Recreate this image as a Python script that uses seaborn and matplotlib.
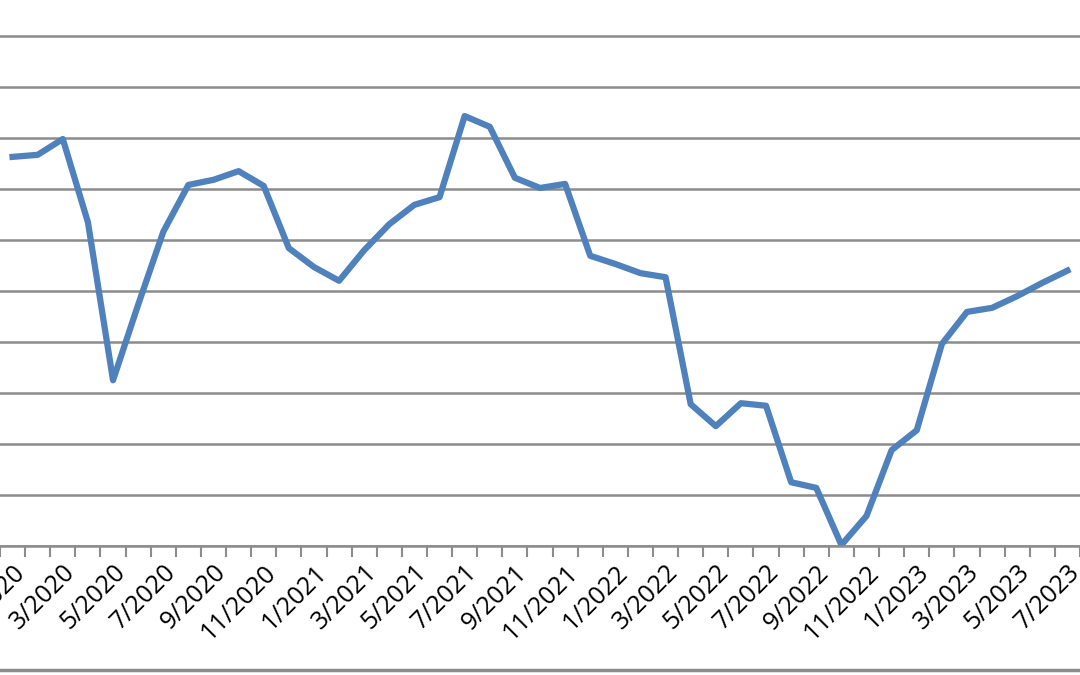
import matplotlib
matplotlib.use("Agg")
import matplotlib.pyplot as plt
import seaborn as sns
import numpy as np
import pandas as pd

months = [f"{m}/{y}" for y in range(2020, 2024) for m in range(1, 13)][:43]
# values (gridline units)
values = [7.63, 7.67, 7.98, 6.35, 3.25, 4.73, 6.16, 7.08, 7.18, 7.35, 7.06,
          5.84, 5.47, 5.20, 5.80, 6.31, 6.69, 6.84, 8.43, 8.22, 7.22, 7.02,
          7.10, 5.69, 5.53, 5.35, 5.27, 2.78, 2.35, 2.80, 2.75, 1.25, 1.14,
          0.02, 0.59, 1.88, 2.27, 3.96, 4.59, 4.67, 4.90, 5.16, 5.40]

df = pd.DataFrame({"idx": np.arange(len(values)), "value": values})

fig = plt.figure(figsize=(10.8, 6.75), dpi=100)
ax = fig.add_axes([0, 129 / 675, 1, 546 / 675])
sns.lineplot(data=df, x="idx", y="value", ax=ax, color="#4f81bd", linewidth=4.5)

ax.set_xlim(-0.39, 41.47)
ax.set_ylim(0, 546 / 51)
ax.set_yticks(range(0, 11))
ax.set_yticklabels([])
ax.tick_params(axis="y", length=0)
ax.grid(axis="y", color="#8c8c8c", linewidth=1.8)
ax.set_axisbelow(True)
for s in ["top", "right", "left"]:
    ax.spines[s].set_visible(False)
ax.spines["bottom"].set_color("#8c8c8c")
ax.spines["bottom"].set_linewidth(1.8)

ax.set_xticks(np.arange(0, 43, 2))
ax.set_xticklabels(months[::2], rotation=45, ha="right", rotation_mode="anchor",
                   fontsize=18, family="Open Sans")
ax.tick_params(axis="x", length=0, pad=10)
ax.set_xticks(np.arange(-0.5, 43, 1), minor=True)
ax.tick_params(axis="x", which="minor", length=8, color="#8c8c8c", width=1.5)
ax.set_xlabel("")
ax.set_ylabel("")

fig.add_artist(plt.Line2D([0, 1], [5 / 675, 5 / 675], color="#8c8c8c", linewidth=2.5))
fig.savefig("out.png", dpi=100)
